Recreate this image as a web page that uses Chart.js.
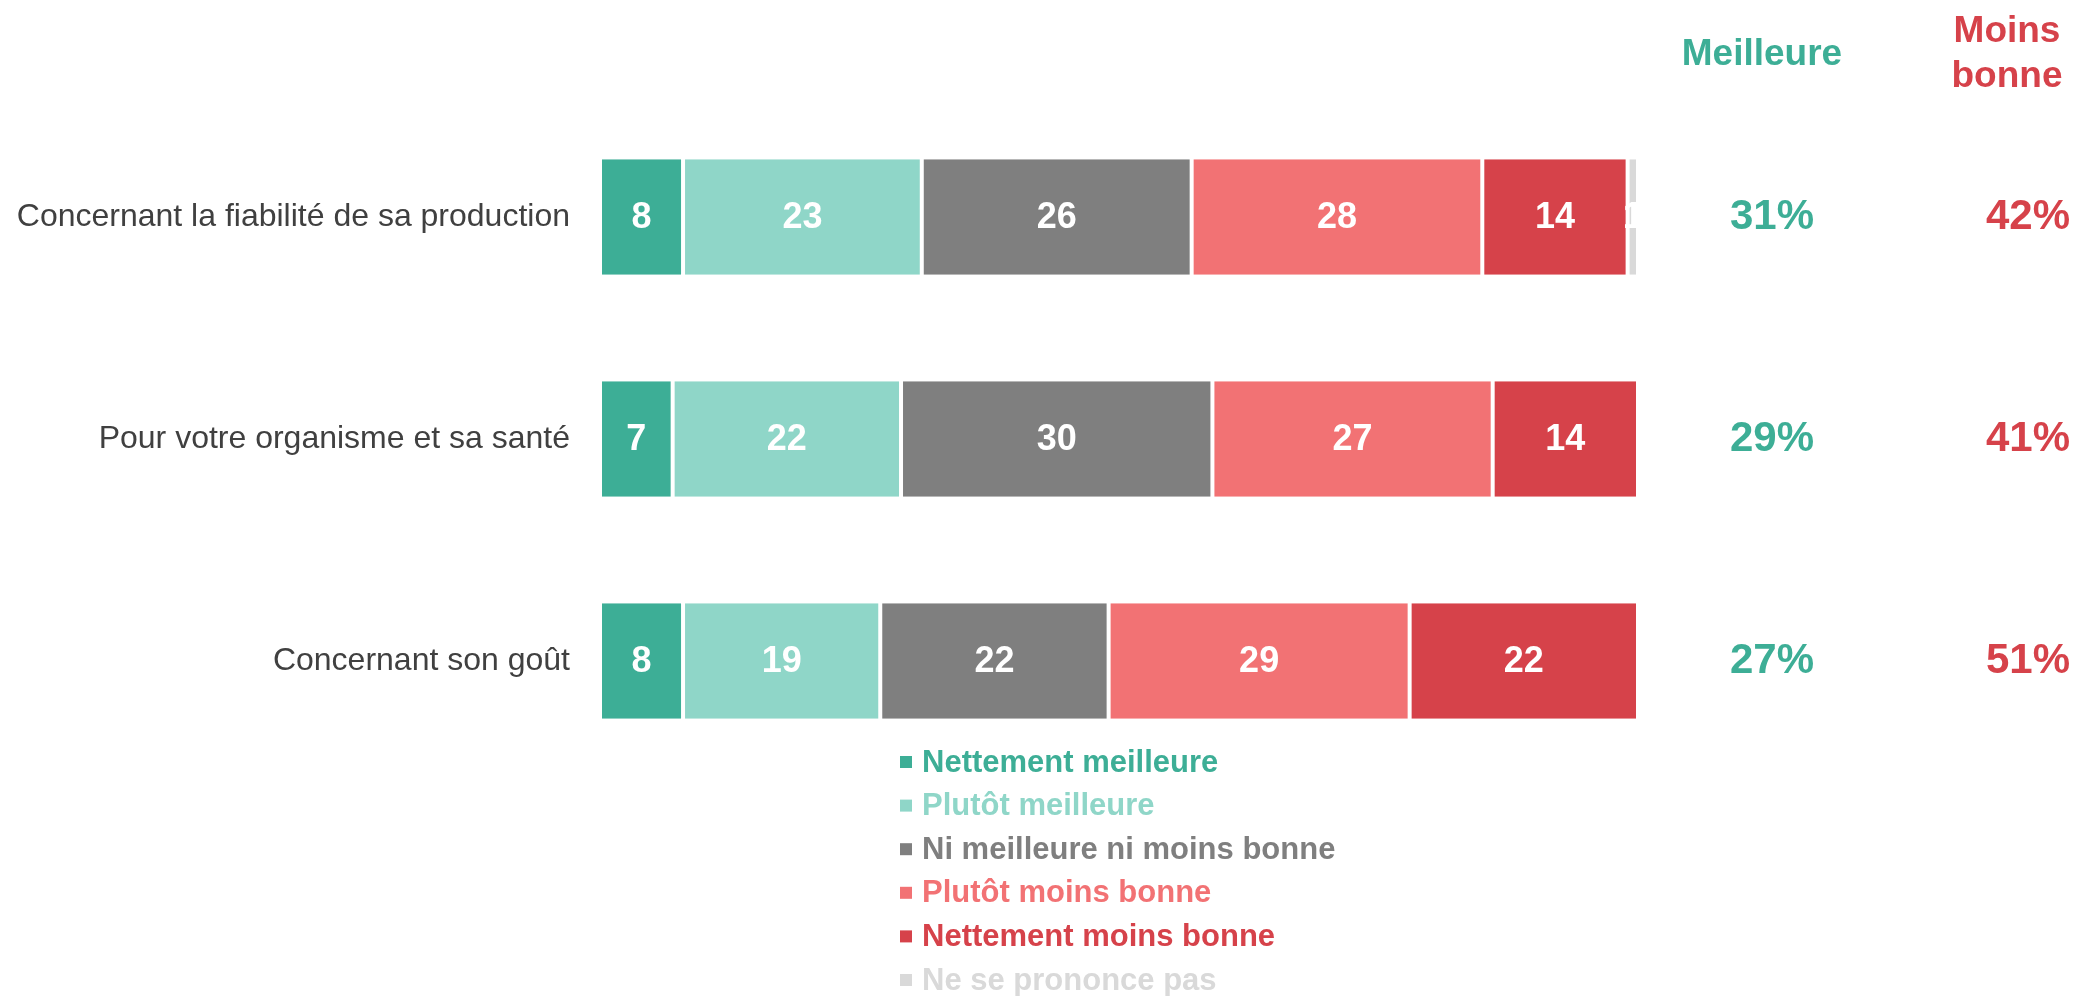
<!DOCTYPE html>
<html>
<head>
<meta charset="utf-8">
<script src="https://cdn.jsdelivr.net/npm/chart.js@4/dist/chart.umd.min.js"></script>
<style>
  body { margin: 0; background: #fff; }
  #wrap { position: relative; width: 2077px; height: 996px; }
</style>
</head>
<body>
<div id="wrap"><canvas id="myChart"></canvas></div>
<script>
'use strict';

// categories (top to bottom)
let labelArray = [
    'Concernant la fiabilité de sa production',
    'Pour votre organisme et sa santé',
    'Concernant son goût'
];

let seriesNames = [
    'Nettement meilleure',
    'Plutôt meilleure',
    'Ni meilleure ni moins bonne',
    'Plutôt moins bonne',
    'Nettement moins bonne',
    'Ne se prononce pas'
];

let seriesColors = ['#3dae96', '#8fd6c8', '#7f7f7f', '#f27274', '#d6424a', '#d9d9d9'];

// values per series, one per category
let nettementMeilleure = [8, 7, 8];
let plutotMeilleure = [23, 22, 19];
let niNi = [26, 30, 22];
let plutotMoinsBonne = [28, 27, 29];
let nettementMoinsBonne = [14, 14, 22];
let neSePrononcePas = [1, 0, 0];

// totals columns on the right
let meilleureTotals = [31, 29, 27];
let moinsBonneTotals = [42, 41, 51];

let allSeries = [nettementMeilleure, plutotMeilleure, niNi, plutotMoinsBonne, nettementMoinsBonne, neSePrononcePas];

const FONT = '"Liberation Sans", Arial, sans-serif';

let datasets = [];
for (let i = 0; i < allSeries.length; i++) {
    datasets.push({
        label: seriesNames[i],
        data: allSeries[i],
        backgroundColor: seriesColors[i],
        borderColor: '#ffffff',
        borderWidth: { left: 2, right: 2, top: 0, bottom: 0 },
        borderSkipped: false,
        categoryPercentage: 1,
        barPercentage: 0.52
    });
}

// values inside bars + totals + headers + legend
const extras = {
    id: 'extras',
    afterDatasetsDraw(chart) {
        const ctx = chart.ctx;
        const yScale = chart.scales.y;
        ctx.save();
        ctx.textBaseline = 'middle';
        ctx.textAlign = 'center';

        // labels in the bars
        ctx.font = 'bold 36px ' + FONT;
        ctx.fillStyle = '#ffffff';
        chart.data.datasets.forEach((ds, di) => {
            let meta = chart.getDatasetMeta(di);
            meta.data.forEach((bar, i) => {
                let v = ds.data[i];
                if (!v) return;
                let cx = (bar.x + bar.base) / 2;
                ctx.fillText(String(v), cx, bar.y + 1);
            });
        });

        // right columns
        ctx.font = 'bold 42px ' + FONT;
        for (let i = 0; i < labelArray.length; i++) {
            let y = yScale.getPixelForValue(i);
            ctx.fillStyle = '#3dae96';
            ctx.fillText(meilleureTotals[i] + '%', 1772, y);
            ctx.fillStyle = '#d6424a';
            ctx.fillText(moinsBonneTotals[i] + '%', 2028, y);
        }

        // headers
        ctx.font = 'bold 37px ' + FONT;
        ctx.textBaseline = 'alphabetic';
        ctx.fillStyle = '#3dae96';
        ctx.fillText('Meilleure', 1762, 65);
        ctx.fillStyle = '#d6424a';
        ctx.fillText('Moins', 2007, 42);
        ctx.fillText('bonne', 2007, 87);

        // legend stacked below the bars
        ctx.textAlign = 'left';
        ctx.textBaseline = 'middle';
        ctx.font = 'bold 31px ' + FONT;
        for (let i = 0; i < seriesNames.length; i++) {
            let y = 762 + i * 43.6;
            ctx.fillStyle = seriesColors[i];
            ctx.fillRect(900, y - 6, 12, 12);
            ctx.fillText(seriesNames[i], 922, y + 1);
        }
        ctx.restore();
    }
};

const config = {
    type: 'bar',
    data: {
        labels: labelArray,
        datasets: datasets
    },
    options: {
        indexAxis: 'y',
        responsive: true,
        maintainAspectRatio: false,
        animation: false,
        layout: {
            padding: { top: 106, bottom: 224, left: 0, right: 439 }
        },
        plugins: {
            legend: { display: false },
            tooltip: { enabled: false }
        },
        scales: {
            x: {
                stacked: true,
                min: 0,
                max: 100,
                display: false
            },
            y: {
                stacked: true,
                grid: { display: false, drawTicks: false },
                border: { display: false },
                ticks: {
                    padding: 30,
                    color: '#404040',
                    font: { family: FONT, size: 32 }
                },
                afterFit(axis) {
                    axis.width = 600;
                }
            }
        }
    },
    plugins: [extras]
};

var myChart = new Chart(document.getElementById('myChart'), config);
</script>
</body>
</html>
